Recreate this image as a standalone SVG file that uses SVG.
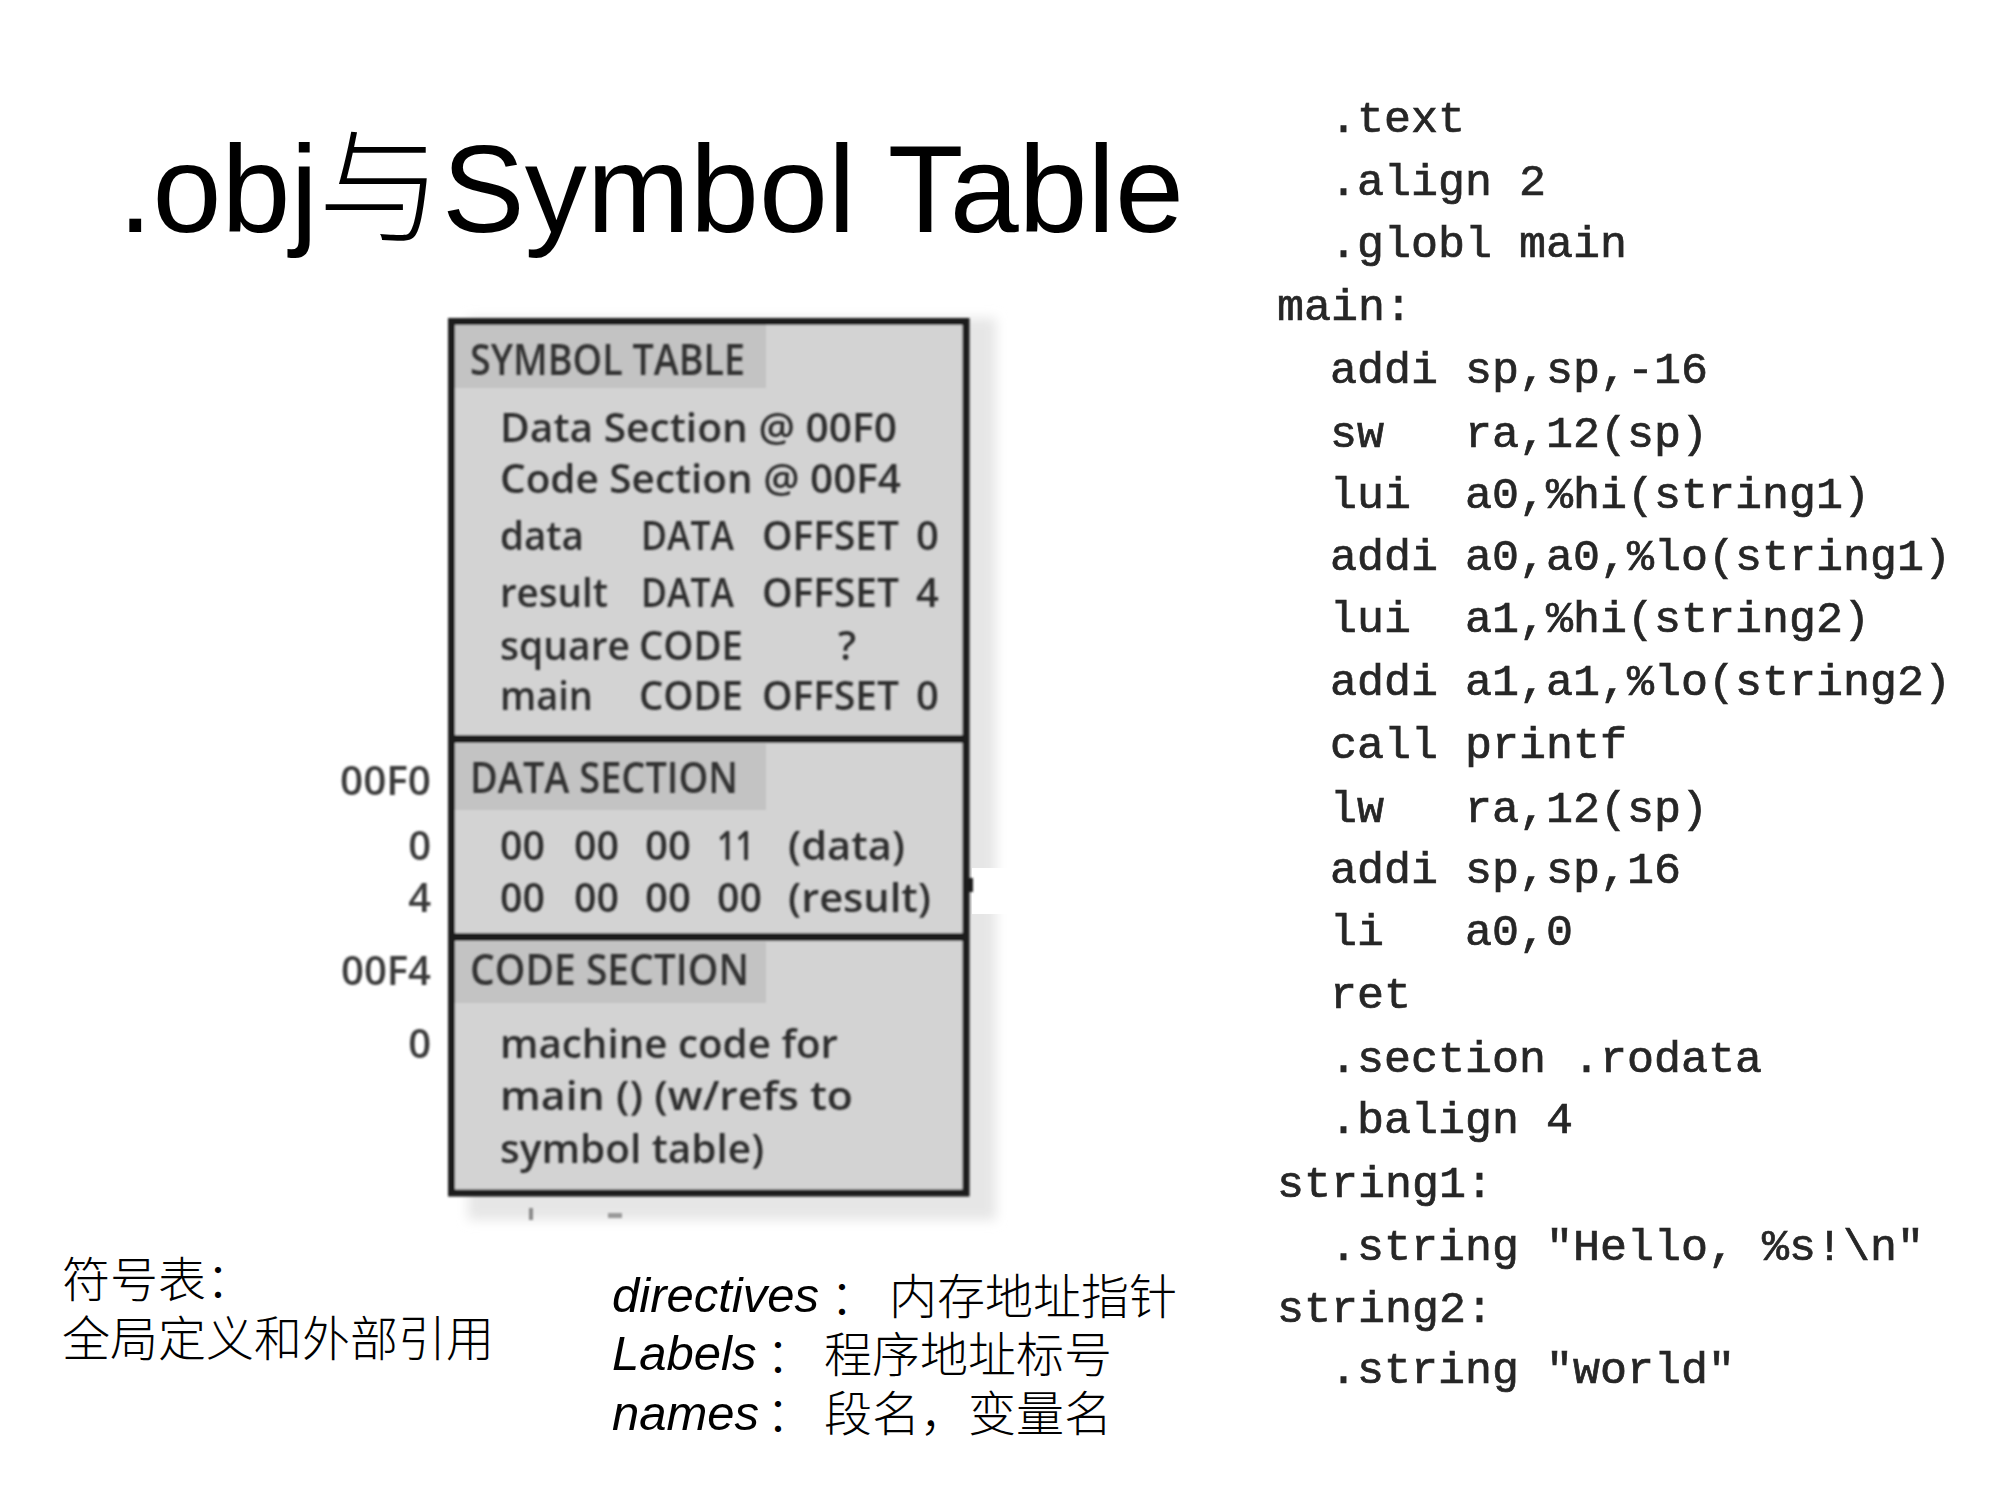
<svg xmlns="http://www.w3.org/2000/svg" width="2000" height="1500" viewBox="0 0 2000 1500">
  <defs>
    <filter id="soft" x="-5%" y="-5%" width="110%" height="110%">
      <feGaussianBlur stdDeviation="0.9"/>
    </filter>
    <filter id="shadow" x="-10%" y="-10%" width="120%" height="120%">
      <feGaussianBlur stdDeviation="6"/>
    </filter>
    <filter id="lightsoft">
      <feGaussianBlur stdDeviation="0.45"/>
    </filter>
  </defs>
  <style>
    .title { font-family: "Liberation Sans", Arial, "Noto Sans CJK SC", sans-serif; font-size: 124px; fill: #000; }
    .bx { font-family: "Open Sans", "DejaVu Sans", sans-serif; font-weight: 600; font-size: 40px; fill: #2e2e2e; }
    .hd { font-family: "Open Sans", "DejaVu Sans", sans-serif; font-weight: 600; font-size: 43px; fill: #333; }
    .addr { font-family: "Open Sans", "DejaVu Sans", sans-serif; font-weight: 600; font-size: 40px; fill: #3a3a3a; text-anchor: end; }
    .code { font-family: "Liberation Mono", "DejaVu Sans Mono", monospace; font-size: 45px; fill: #262626; stroke: #262626; stroke-width: 0.7px; white-space: pre; }
    .cjk { font-family: "Noto Sans CJK SC", sans-serif; font-weight: 300; font-size: 48px; fill: #000; }
    .lat { font-family: "Liberation Sans", Arial, sans-serif; font-style: italic; font-weight: 400; font-size: 49px; }
  </style>

  <rect x="0" y="0" width="2000" height="1500" fill="#ffffff"/>

  <!-- slide title -->
  <g id="title">
    <text class="title" x="118" y="232">.obj<tspan font-family="'Noto Sans CJK SC', sans-serif" font-weight="300">与</tspan>Symbol Table</text>
  </g>

  <!-- object file layout: symbol table, data section, code section -->
  <g id="object-file">
    <rect x="468" y="318" width="528" height="902" fill="#e6e6e6" filter="url(#shadow)"/>
    <rect x="972" y="868" width="40" height="46" fill="#ffffff"/>
    <g filter="url(#soft)">
      <rect x="451.5" y="321.5" width="514.5" height="871.5" fill="#d3d3d3"/>
      <!-- section header bands -->
      <rect x="455" y="325" width="311" height="63" fill="#c3c3c3"/>
      <rect x="455" y="744" width="311" height="66" fill="#c3c3c3"/>
      <rect x="455" y="942" width="311" height="61" fill="#c3c3c3"/>
      <!-- frame and dividers -->
      <rect x="451.5" y="321.5" width="514.5" height="871.5" fill="none" stroke="#1c1c1c" stroke-width="7"/>
      <line x1="451" y1="739" x2="966" y2="739" stroke="#1c1c1c" stroke-width="8"/>
      <line x1="451" y1="937" x2="966" y2="937" stroke="#1c1c1c" stroke-width="8"/>
      <rect x="963" y="878" width="10" height="14" fill="#1c1c1c"/>
      <rect x="529" y="1208" width="4" height="12" fill="#8a8a8a"/>
      <rect x="608" y="1213" width="14" height="5" fill="#9a9a9a"/>
    </g>

    <g id="symbol-table" filter="url(#soft)">
      <text class="hd" x="470" y="375" textLength="275" lengthAdjust="spacingAndGlyphs">SYMBOL TABLE</text>
      <text class="bx" x="500" y="442" textLength="397" lengthAdjust="spacingAndGlyphs">Data Section @ 00F0</text>
      <text class="bx" x="500" y="493" textLength="401" lengthAdjust="spacingAndGlyphs">Code Section @ 00F4</text>

      <text class="bx" x="500" y="550" textLength="84" lengthAdjust="spacingAndGlyphs">data</text>
      <text class="bx" x="641" y="550" textLength="93" lengthAdjust="spacingAndGlyphs">DATA</text>
      <text class="bx" x="762" y="550" textLength="137" lengthAdjust="spacingAndGlyphs">OFFSET</text>
      <text class="bx" x="916" y="550">0</text>

      <text class="bx" x="500" y="607" textLength="108" lengthAdjust="spacingAndGlyphs">result</text>
      <text class="bx" x="641" y="607" textLength="93" lengthAdjust="spacingAndGlyphs">DATA</text>
      <text class="bx" x="762" y="607" textLength="137" lengthAdjust="spacingAndGlyphs">OFFSET</text>
      <text class="bx" x="916" y="607">4</text>

      <text class="bx" x="500" y="660" textLength="130" lengthAdjust="spacingAndGlyphs">square</text>
      <text class="bx" x="639" y="660" textLength="104" lengthAdjust="spacingAndGlyphs">CODE</text>
      <text class="bx" x="838" y="660">?</text>

      <text class="bx" x="500" y="710" textLength="93" lengthAdjust="spacingAndGlyphs">main</text>
      <text class="bx" x="639" y="710" textLength="104" lengthAdjust="spacingAndGlyphs">CODE</text>
      <text class="bx" x="762" y="710" textLength="137" lengthAdjust="spacingAndGlyphs">OFFSET</text>
      <text class="bx" x="916" y="710">0</text>
    </g>

    <g id="data-section" filter="url(#soft)">
      <text class="addr" x="431" y="795" textLength="91" lengthAdjust="spacingAndGlyphs">00F0</text>
      <text class="hd" x="470" y="793" textLength="268" lengthAdjust="spacingAndGlyphs">DATA SECTION</text>

      <text class="addr" x="431" y="860">0</text>
      <text class="bx" x="500" y="860" textLength="45" lengthAdjust="spacingAndGlyphs">00</text>
      <text class="bx" x="574" y="860" textLength="45" lengthAdjust="spacingAndGlyphs">00</text>
      <text class="bx" x="645" y="860" textLength="46" lengthAdjust="spacingAndGlyphs">00</text>
      <text class="bx" x="717" y="860" textLength="37" lengthAdjust="spacingAndGlyphs">11</text>
      <text class="bx" x="788" y="860" textLength="117" lengthAdjust="spacingAndGlyphs">(data)</text>

      <text class="addr" x="431" y="912">4</text>
      <text class="bx" x="500" y="912" textLength="45" lengthAdjust="spacingAndGlyphs">00</text>
      <text class="bx" x="574" y="912" textLength="45" lengthAdjust="spacingAndGlyphs">00</text>
      <text class="bx" x="645" y="912" textLength="46" lengthAdjust="spacingAndGlyphs">00</text>
      <text class="bx" x="717" y="912" textLength="45" lengthAdjust="spacingAndGlyphs">00</text>
      <text class="bx" x="788" y="912" textLength="143" lengthAdjust="spacingAndGlyphs">(result)</text>
    </g>

    <g id="code-section" filter="url(#soft)">
      <text class="addr" x="431" y="985" textLength="90" lengthAdjust="spacingAndGlyphs">00F4</text>
      <text class="hd" x="470" y="985" textLength="279" lengthAdjust="spacingAndGlyphs">CODE SECTION</text>
      <text class="addr" x="431" y="1058">0</text>
      <text class="bx" x="500" y="1058" textLength="338" lengthAdjust="spacingAndGlyphs">machine code for</text>
      <text class="bx" x="500" y="1110" textLength="353" lengthAdjust="spacingAndGlyphs">main () (w/refs to</text>
      <text class="bx" x="500" y="1163" textLength="264" lengthAdjust="spacingAndGlyphs">symbol table)</text>
    </g>
  </g>

  <!-- RISC-V assembly listing -->
  <g id="assembly" filter="url(#lightsoft)" xml:space="preserve">
    <text class="code" x="1330" y="132">.text</text>
    <text class="code" x="1330" y="195">.align 2</text>
    <text class="code" x="1330" y="257">.globl main</text>
    <text class="code" x="1277" y="320">main:</text>
    <text class="code" x="1330" y="383">addi sp,sp,-16</text>
    <text class="code" x="1330" y="447">sw   ra,12(sp)</text>
    <text class="code" x="1330" y="508">lui  a0,%hi(string1)</text>
    <text class="code" x="1330" y="570">addi a0,a0,%lo(string1)</text>
    <text class="code" x="1330" y="632">lui  a1,%hi(string2)</text>
    <text class="code" x="1330" y="695">addi a1,a1,%lo(string2)</text>
    <text class="code" x="1330" y="758">call printf</text>
    <text class="code" x="1330" y="822">lw   ra,12(sp)</text>
    <text class="code" x="1330" y="883">addi sp,sp,16</text>
    <text class="code" x="1330" y="945">li   a0,0</text>
    <text class="code" x="1330" y="1008">ret</text>
    <text class="code" x="1330" y="1072">.section .rodata</text>
    <text class="code" x="1330" y="1133">.balign 4</text>
    <text class="code" x="1277" y="1197">string1:</text>
    <text class="code" x="1330" y="1260">.string "Hello, %s!\n"</text>
    <text class="code" x="1277" y="1322">string2:</text>
    <text class="code" x="1330" y="1383">.string "world"</text>
  </g>

  <!-- notes below the figure -->
  <g id="note-symbols">
    <text class="cjk"><tspan x="62" y="1297">符号表：</tspan><tspan x="62" y="1356">全局定义和外部引用</tspan></text>
  </g>
  <g id="note-terms">
    <text class="cjk"><tspan class="lat" x="612" y="1312">directives</tspan><tspan x="830" y="1314">：</tspan><tspan x="889" y="1314">内存地址指针</tspan><tspan class="lat" x="612" y="1370">Labels</tspan><tspan x="766" y="1372">：</tspan><tspan x="824" y="1372">程序地址标号</tspan><tspan class="lat" x="612" y="1430">names</tspan><tspan x="766" y="1431">：</tspan><tspan x="824" y="1431">段名，变量名</tspan></text>
  </g>
</svg>
